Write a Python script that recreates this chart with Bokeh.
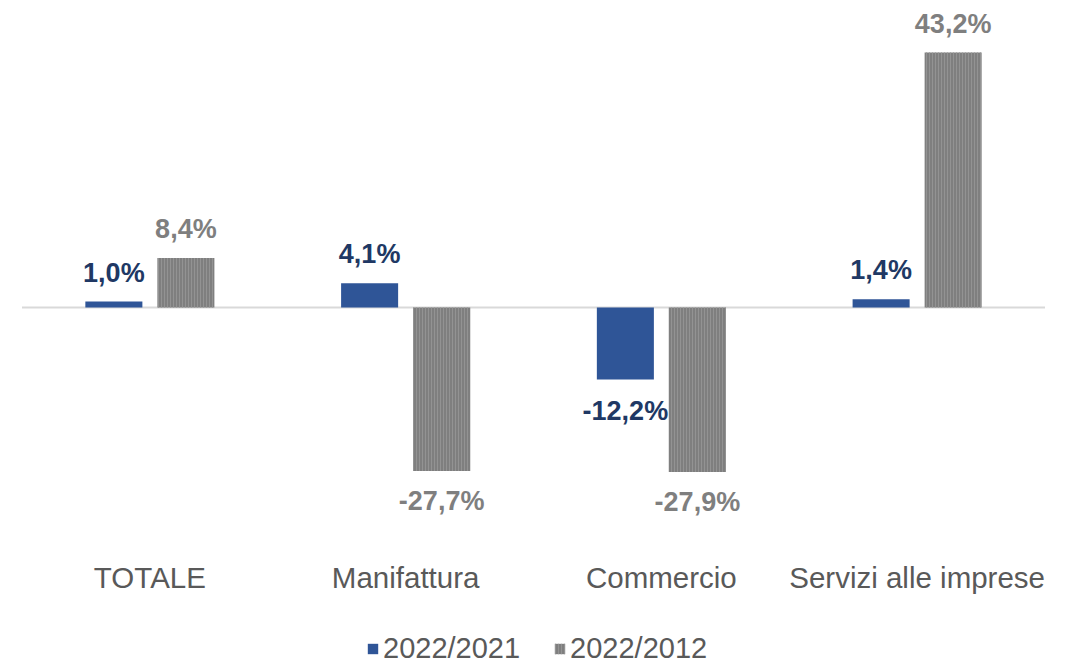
from bokeh.plotting import figure
from bokeh.models import ColumnDataSource, Range1d, Legend, LegendItem
from bokeh.core.properties import value
from bokeh.embed import file_html
from bokeh.resources import INLINE

categories = ["TOTALE", "Manifattura", "Commercio", "Servizi alle imprese"]
series_names = ["2022/2021", "2022/2012"]
v_2022_2021 = [1.0, 4.1, -12.2, 1.4]
v_2022_2012 = [8.4, -27.7, -27.9, 43.2]

BLUE = "#2F5597"
BLUE_TXT = "#203864"
GRAY = "#7F7F7F"
GRAY_TXT = "#7F7F7F"
CAT_TXT = "#595959"
FONT = "Liberation Sans"

W, H = 1071, 665
n = len(categories)
px_per_cat = 255.75
x0_px = 21.5
px_per_unit = 5.9
zero_px = 307

x_start = -x0_px / px_per_cat
x_end = x_start + W / px_per_cat
y_end = zero_px / px_per_unit
y_start = -(H - zero_px) / px_per_unit

p = figure(width=W, height=H, output_backend="svg", toolbar_location=None,
           x_range=Range1d(x_start, x_end), y_range=Range1d(y_start, y_end),
           min_border=0, outline_line_color=None)
p.axis.visible = False
p.grid.visible = False
p.background_fill_color = None
p.border_fill_color = None

centers = [i + 0.5 for i in range(n)]
off = 0.1408
bw = 0.223

def fmt(v):
    return ("%.1f%%" % v).replace(".", ",")

def label_offsets(vals, pos_off, neg_off):
    return [pos_off if v >= 0 else neg_off for v in vals]

s1 = ColumnDataSource(dict(x=[c - off for c in centers], top=v_2022_2021,
                           lab=[fmt(v) for v in v_2022_2021],
                           yo=label_offsets(v_2022_2021, -29, 32)))
s2 = ColumnDataSource(dict(x=[c + off for c in centers], top=v_2022_2012,
                           lab=[fmt(v) for v in v_2022_2012],
                           yo=label_offsets(v_2022_2012, -29, 30)))

# zero line
p.segment(x0=[0], y0=[0], x1=[n], y1=[0], line_color="#D9D9D9", line_width=2)

r1 = p.vbar(x="x", top="top", bottom=0, width=bw, source=s1,
            fill_color=BLUE, line_color=None)
r2 = p.vbar(x="x", top="top", bottom=0, width=bw, source=s2,
            fill_color=GRAY, line_color=None,
            hatch_pattern="|", hatch_color="#939393", hatch_scale=3, hatch_weight=1)

p.text(x="x", y="top", text="lab", source=s1, y_offset="yo",
       text_align="center", text_baseline="alphabetic",
       text_font=value(FONT), text_font_style="bold", text_font_size="27px",
       text_color=BLUE_TXT)
p.text(x="x", y="top", text="lab", source=s2, y_offset="yo",
       text_align="center", text_baseline="alphabetic",
       text_font=value(FONT), text_font_style="bold", text_font_size="27px",
       text_color=GRAY_TXT)

# category labels
cat_src = ColumnDataSource(dict(x=centers, y=[0] * n, t=categories))
p.text(x="x", y="y", text="t", source=cat_src, y_offset=270,
       text_align="center", text_baseline="alphabetic",
       text_font=value(FONT), text_font_size="29.5px", text_color=CAT_TXT)

legend = Legend(items=[LegendItem(label=series_names[0], renderers=[r1]),
                       LegendItem(label=series_names[1], renderers=[r2])],
                orientation="horizontal", location=(366, 0),
                glyph_width=13, glyph_height=13, label_standoff=4, spacing=33,
                padding=0, margin=0, border_line_color=None,
                background_fill_alpha=0,
                label_text_font=FONT, label_text_font_size="29px",
                label_text_color=CAT_TXT)
p.add_layout(legend)

open("out.html", "w").write(file_html(p, INLINE))
